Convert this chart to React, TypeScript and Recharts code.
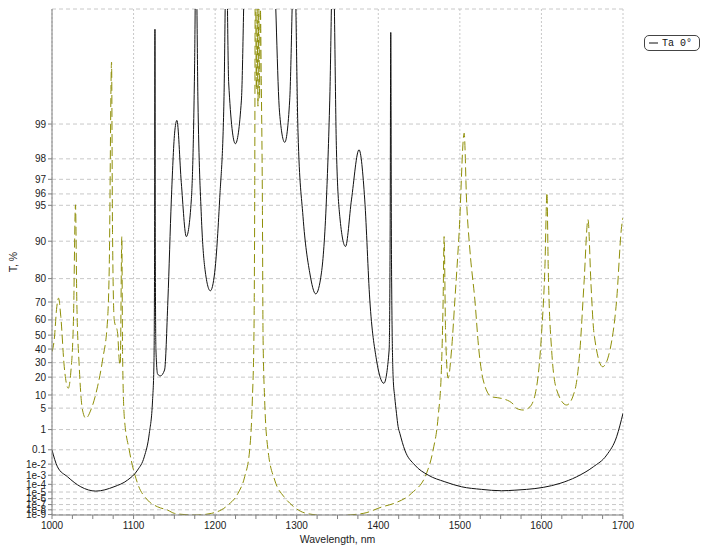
import {
  LineChart, Line, XAxis, YAxis, CartesianGrid, ReferenceLine,
} from 'recharts';

// Wavelength (nm) and transmission (%).
const TA0_NM = [
  1000, 1006.7, 1019, 1035.3, 1053.7, 1076, 1092.6, 1104.9, 1113.1, 1119.3, 1123.3, 1125, 1125.8,
  1126.2, 1126.6, 1127.4, 1129.5, 1132.8, 1138, 1142.1, 1146.3, 1150.3, 1153.1, 1158.5, 1164.7,
  1170.8, 1174.8, 1176.5, 1178.9, 1183.1, 1187.1, 1194.1, 1199.4, 1205.5, 1210.8, 1213.7, 1216.6,
  1224.8, 1232.2, 1237, 1250, 1262, 1271.5, 1279, 1285.3, 1291.4, 1297, 1301.6, 1307.7, 1316,
  1323.3, 1330.3, 1336.4, 1340.5, 1344.5, 1348.7, 1352.8, 1359.8, 1367.1, 1376.4, 1383.4, 1389.6,
  1397.8, 1406.8, 1413.3, 1414.5, 1415.3, 1416.2, 1418.2, 1420.2, 1422.3, 1424.3, 1426.4, 1432.5,
  1444.8, 1461.1, 1481.6, 1502.1, 1526.6, 1551.2, 1567.5, 1581.8, 1602.2, 1622.7, 1643.2, 1663.6,
  1680, 1692.2, 1700,
];
const TA0_T = [
  0.096, 6e-3, 7e-4, 5e-5, 1.35e-5, 5e-5, 3.1e-4, 3.1e-3, 0.035, 0.7, 7.8, 30, 90,
  99.85, 90, 40, 22, 20.8, 24.8, 71, 95.5, 98.8, 99.07, 96.8, 90.84,
  95.5, 99.68, 99.97, 99.38, 93.8, 84, 75.2, 82, 95.5, 99.38, 99.97, 99.56,
  98.52, 99.38, 99.97, 99.99, 99.99, 99.97, 99.2, 98.56, 99.38, 99.97, 98.81, 93.8, 81.96,
  73.85, 81.96, 95.5, 99.38, 99.97, 98.33, 93.8, 88.94, 95.5, 98.33, 95.5, 71,
  32, 16.2, 39.3, 90, 99.84, 85, 20, 9, 3.6, 1.3, 0.7, 0.096,
  8.4e-3, 1.04e-3, 2e-4, 5e-5, 2.3e-5, 1.5e-5, 1.8e-5, 2.3e-5, 4.2e-5, 1.3e-4, 7e-4, 6e-3,
  0.046, 0.49, 3.6,
];

const OBLIQUE_NM = [
  1000, 1002.7, 1005.9, 1008, 1010.8, 1015, 1019.9, 1023, 1026.4, 1028.8, 1030.4, 1033.4, 1037.4,
  1041.5, 1047.6, 1055.8, 1062, 1068.1, 1070.2, 1073, 1074.2, 1076.3, 1080.4, 1082.4, 1083.7,
  1085.6, 1086.5, 1088.6, 1094.7, 1104.9, 1117.2, 1129.4, 1141.7, 1150.3, 1174.8, 1195.3, 1215.7,
  1228, 1236.2, 1242.3, 1245.6, 1247.6, 1248.5, 1249.3, 1250.5, 1251.5, 1252.5, 1253.5, 1254.5,
  1255.5, 1256.5, 1257.9, 1258.7, 1260.7, 1264.8, 1273, 1284.4, 1291.4, 1311.9, 1340.5, 1381.4,
  1405, 1420.2, 1440.7, 1459.1, 1467.2, 1473.4, 1477.5, 1479.5, 1480.7, 1482.5, 1485.6, 1489.8,
  1493.9, 1499.1, 1505.3, 1508.2, 1512.3, 1518.4, 1523.3, 1528.6, 1538.9, 1551.2, 1565.4, 1569.6,
  1577.7, 1585.9, 1594.1, 1600.2, 1604.3, 1606.8, 1608.3, 1612.5, 1618.7, 1630.9, 1641.1, 1647.2,
  1652.2, 1657.1, 1660.7, 1664.4, 1675.1, 1684, 1692.2, 1698.3, 1700,
];
const OBLIQUE_T = [
  38.1, 46.6, 67.6, 71.9, 62, 27.1, 13.4, 22.8, 62, 95.05, 71, 27.1, 4.45,
  2.54, 4.45, 14.2, 32, 60, 84, 99.71, 91.5, 60, 51.5, 32, 28.4,
  90.84, 37.1, 2.85, 0.096, 1.3e-4, 5.9e-7, 3.9e-8, 8.7e-9, 1.8e-9, 7.6e-10, 1.8e-9, 8e-8,
  6.5e-6, 7e-4, 0.096, 7.8, 51.5, 95.5, 99.97, 99.5, 99.9, 99.3, 99.9, 99.4,
  99.9, 99.6, 95.5, 51.5, 7.8, 0.096, 3.1e-4, 2e-6, 1.8e-7, 1.8e-9, 5e-10, 1.8e-9,
  3.9e-8, 1.8e-7, 6.5e-6, 1.5e-3, 0.096, 2.85, 27.1, 71, 90.84, 51.5, 19.3, 39.3,
  71, 91.5, 98.8, 95.5, 88.2, 71, 39.3, 18.2, 9.2, 8.5, 6.3, 4.9,
  4.45, 5.4, 14.2, 51.5, 84, 96.1, 84, 39.3, 12.5, 6.0, 12.5, 39.3,
  78.3, 93.4, 78.3, 51.5, 27.1, 39.3, 71, 92.45, 93.6,
];

const X_LABELS = [1000, 1100, 1200, 1300, 1400, 1500, 1600, 1700];
const Y_TICK_T = [1e-9, 1e-8, 1e-7, 1e-6, 1e-5, 1e-4, 1e-3, 1e-2, 0.1, 1, 5, 10, 20, 30, 40, 50, 60, 70, 80, 90, 95, 96, 97, 98, 99];
const Y_TICK_LABELS = ['1e-9', '1e-8', '1e-7', '1e-6', '1e-5', '1e-4', '1e-3', '1e-2', '0.1', '1', '5', '10', '20', '30', '40', '50', '60', '70', '80', '90', '95', '96', '97', '98', '99'];
const Y_MIN_T = 8e-10;
const Y_MAX_T = 99.9;
const LEGEND_NAME = 'Ta 0°';

// log of optical density, flipped so that higher T goes up
const toScale = (t: number) => -Math.log10(-Math.log10(t / 100));

const ta0 = TA0_NM.map((nm, i) => ({ nm, v: toScale(TA0_T[i]) }));
const oblique = OBLIQUE_NM.map((nm, i) => ({ nm, v: toScale(OBLIQUE_T[i]) }));

const xTicks = Array.from({ length: 29 }, (_, i) => 1000 + i * 25);
const yTicks = Y_TICK_T.map(toScale);
const fmtY = (v: number) => {
  const i = yTicks.findIndex((t) => Math.abs(t - v) < 1e-6);
  return i >= 0 ? Y_TICK_LABELS[i] : '';
};

const FONT = '"Liberation Sans", Arial, sans-serif';
const tickStyle = { fontSize: 10, fill: '#222', fontFamily: FONT };

export default function App() {
  return (
    <div style={{ position: 'absolute', left: 0, top: 0, width: 703, height: 546, background: '#fff' }}>
      <LineChart width={703} height={546} margin={{ top: 9, right: 80, bottom: 0, left: 0 }}>
        <CartesianGrid vertical={false} stroke="#c8c8c8" strokeDasharray="4 3" />
        {X_LABELS.map((x) => (
          <ReferenceLine key={x} x={x} stroke="#c8c8c8" strokeDasharray="2 2" />
        ))}
        <XAxis
          type="number" dataKey="nm" domain={[1000, 1700]} ticks={xTicks} interval={0}
          allowDataOverflow height={31} tickSize={4} tickMargin={3}
          tickFormatter={(v: number) => (v % 100 === 0 ? String(v) : '')}
          tick={tickStyle} stroke="#808080"
          label={{ value: 'Wavelength, nm', position: 'insideBottom', offset: 3, style: { fontSize: 10.5, fill: '#222', fontFamily: FONT } }}
        />
        <YAxis
          type="number" domain={[toScale(Y_MIN_T), toScale(Y_MAX_T)]} ticks={yTicks} interval={0}
          allowDataOverflow width={52} tickSize={4} tickMargin={2} tickFormatter={fmtY}
          tick={tickStyle} stroke="#808080"
          label={{ value: 'T, %', angle: -90, position: 'insideLeft', offset: 13, style: { fontSize: 10.5, fill: '#222', fontFamily: FONT, textAnchor: 'middle' } }}
        />
        <Line data={oblique} dataKey="v" type="monotone" stroke="#8f8f08" strokeWidth={1}
          strokeDasharray="9 4" dot={false} isAnimationActive={false} />
        <Line data={ta0} dataKey="v" name={LEGEND_NAME} type="monotone" stroke="#111" strokeWidth={1}
          dot={false} isAnimationActive={false} />
      </LineChart>
      <div style={{
        position: 'absolute', left: 644, top: 35, width: 56, height: 16, boxSizing: 'border-box',
        border: '1px solid #444', borderRadius: 5, background: '#fff', display: 'flex', alignItems: 'center',
        fontFamily: '"Liberation Mono", monospace', fontSize: 10, color: '#111', paddingLeft: 4,
      }}>
        <svg width={9} height={4} style={{ marginRight: 4 }}><line x1={0} y1={2} x2={9} y2={2} stroke="#111" /></svg>
        {LEGEND_NAME}
      </div>
    </div>
  );
}
